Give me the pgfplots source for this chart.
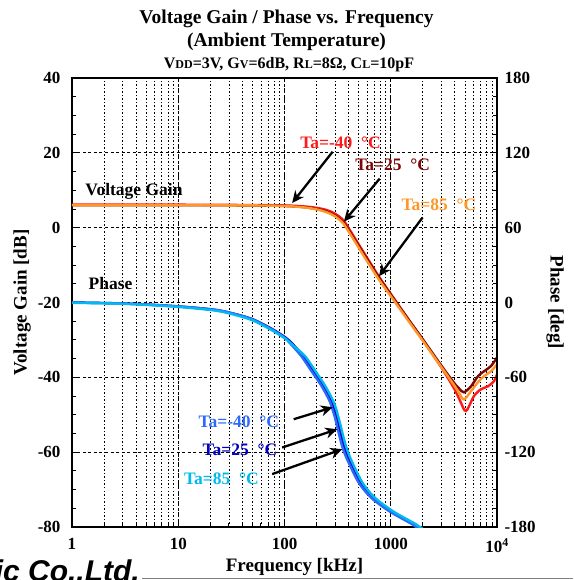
\documentclass[border=0pt]{standalone}
\usepackage{fontspec}
\setmainfont{Liberation Serif}
\newfontfamily\wmfont{Liberation Sans}
\usepackage{pgfplots}
\pgfplotsset{compat=1.18}
\usetikzlibrary{arrows.meta}
\definecolor{gRed}{RGB}{255,25,25}
\definecolor{gDark}{RGB}{125,5,5}
\definecolor{gOrange}{RGB}{255,150,40}
\definecolor{pRoyal}{RGB}{45,105,250}
\definecolor{pDark}{RGB}{0,0,190}
\definecolor{pCyan}{RGB}{0,185,240}
\newcommand{\lab}{\fontsize{17.5}{17.5}\selectfont\bfseries}
\newcommand{\tlab}{\fontsize{17}{17}\selectfont\bfseries}
\newcommand{\axlab}{\fontsize{19}{19}\selectfont\bfseries}
\tikzset{annarrow/.style={line width=2.3pt,-{Stealth[length=12pt,width=11pt]}}}
\begin{document}
\begin{tikzpicture}
\begin{axis}[name=ax,
  scale only axis, width=425pt, height=449pt,
  at={(0,0)}, anchor=south west,
  xmode=log, xmin=1, xmax=10000,
  tick align=inside, major tick length=7pt, minor tick length=4pt,
  ticklabel style={font=\tlab},
  xticklabel style={yshift=-8pt},
  yticklabel style={xshift=-8pt},
  /pgf/number format/assume math mode=true,
  axis line style={line width=1.8pt},
  every tick/.style={black, line width=0.9pt},
  ymin=-80, ymax=40, ytick={-80,-60,...,40}, minor y tick num=3,
  ytick pos=left, xtick pos=bottom,
  xtick={1,10,100,1000,10000}, xticklabels={1,10,100,1000,10\textsuperscript{4}},
  xmajorgrids=true, xminorgrids=true, ymajorgrids=true,
  major grid style={black, line width=0.8pt, dash pattern=on 3pt off 2.5pt},
  minor grid style={black, line width=0.8pt, dash pattern=on 1.5pt off 2pt},
  ylabel={Voltage Gain [dB]},
  ylabel style={font=\axlab, at={(axis description cs:-0.1176,0.5)}, anchor=center},
  xlabel={Frequency [kHz]},
  xlabel style={font=\axlab, at={(axis description cs:0.5235,-0.089)}, anchor=center},
]
\addplot[gRed, line width=2.4pt, smooth] coordinates {
(1,6.2) (5,6.2) (10,6.15) (20,6.1) (50,6.05) (100,5.95) (150,5.7) (200,5.3) (250,4.7) (300,3.7) (360,1.9) (450,-2.4) (556,-6.6) (771,-13.0) (1000,-17.7) (1500,-24.9) (2000,-30.0) (3000,-37.4) (3950,-43.0) (4500,-46.3) (5100,-49.0) (6070,-45.0) (7060,-43.2) (8230,-42.4) (9370,-41.0) (10000,-39.2)};
\addplot[gDark, line width=2.4pt, smooth] coordinates {
(1,6.0) (2,6.0) (5,6.0) (10,6.0) (20,6.0) (50,5.95) (100,5.8) (150,5.5) (200,5.0) (250,4.3) (300,3.2) (360,1.3) (450,-2.9) (556,-7.0) (771,-13.3) (1000,-17.9) (1500,-24.9) (2000,-29.8) (3000,-36.9) (3950,-41.5) (4400,-43.0) (4890,-44.0) (5690,-42.4) (6620,-39.7) (7540,-38.4) (8770,-37.0) (10000,-34.7)};
\addplot[gOrange, line width=2.4pt, smooth] coordinates {
(1,6.0) (10,6.0) (50,5.95) (100,5.8) (150,5.45) (200,4.9) (250,4.1) (300,3.0) (360,1.0) (450,-3.3) (556,-7.5) (771,-13.8) (1000,-18.3) (1500,-25.3) (2000,-30.2) (3000,-37.3) (3950,-42.1) (4400,-44.2) (4890,-45.9) (5690,-43.7) (6620,-41.3) (7540,-39.7) (8770,-38.4) (10000,-36.5)};
\node[font=\lab, text=gRed] at (axis cs:337,22.8) {Ta=-40~~°C};
\node[font=\lab, text=gDark] at (axis cs:1044,16.7) {Ta=25~~°C};
\node[font=\lab, text=gOrange] at (axis cs:2838,6.1) {Ta=85~~°C};
\draw[annarrow] (axis cs:284,20.3) -- (axis cs:118,6.6);
\draw[annarrow] (axis cs:787,13.1) -- (axis cs:362,1.6);
\draw[annarrow] (axis cs:1991,2.7) -- (axis cs:775,-13.0);
\node[font=\lab, anchor=west] at (axis cs:1.24,9.7) {Voltage Gain};
\node[font=\lab, anchor=west] at (axis cs:1.33,-14.9) {Phase};
\end{axis}
\begin{axis}[
  scale only axis, width=425pt, height=449pt,
  at={(0,0)}, anchor=south west,
  xmode=log, xmin=1, xmax=10000,
  tick align=inside, major tick length=7pt, minor tick length=4pt,
  ticklabel style={font=\tlab},
  yticklabel style={xshift=4pt},
  /pgf/number format/assume math mode=true,
  axis line style={line width=1.8pt},
  every tick/.style={black, line width=0.9pt},
  ymin=-180, ymax=180, ytick={-180,-120,...,180}, minor y tick num=3,
  axis y line*=right, axis x line=none,
  ylabel={Phase [deg]},
  ylabel style={font=\axlab, at={(axis description cs:1.1365,0.5)}, anchor=center, rotate=180},
]
\addplot[pDark, line width=2.4pt, smooth] coordinates {
(1,0) (3,-0.8) (8.8,-2.8) (21,-5.6) (32,-8.6) (50,-13.4) (77,-21.4) (103,-28.3) (120,-33.5) (150,-43) (189,-55.5) (225,-65) (253,-72.5) (280,-80) (292,-84.5) (310,-92) (325,-99) (345,-108) (363,-115) (390,-122.5) (419,-128.5) (470,-137.5) (521,-144.5) (600,-151.5) (695,-157.2) (850,-163) (1074,-168.8) (1400,-174.3) (1660,-177.8) (1786,-179.7) (2000,-182.5)};
\addplot[pRoyal, line width=2.4pt, smooth] coordinates {
(1,0) (3,-0.8) (8.8,-2.8) (21,-5.6) (32,-8.6) (50,-13.6) (77,-21.8) (103,-29) (115,-33.5) (144,-43) (181,-55.5) (216,-65) (243,-72.5) (269,-80) (280,-84.5) (298,-92) (312,-99) (331,-108) (348,-115) (374,-122.5) (402,-128.5) (451,-137.5) (500,-144.5) (576,-151.5) (667,-157.2) (816,-163) (1031,-168.8) (1344,-174.3) (1594,-177.8) (1715,-179.7) (1920,-182.5)};
\addplot[pCyan, line width=2.4pt, smooth] coordinates {
(1,-0.3) (3,-1.0) (8.8,-3.2) (21,-6.2) (32,-9.3) (50,-14.3) (77,-22.5) (103,-29.3) (120,-34.3) (156,-43) (197,-55.5) (234,-65) (263,-72.5) (291,-80) (304,-84.5) (322,-92) (338,-99) (359,-108) (378,-115) (406,-122.5) (436,-128.5) (489,-137.5) (542,-144.5) (624,-151.5) (723,-157.2) (884,-163) (1117,-168.8) (1456,-174.3) (1726,-177.8) (1857,-179.7) (2080,-182.5)};
\node[font=\lab, text=pRoyal] at (axis cs:37.2,-95.6) {Ta=-40~~°C};
\node[font=\lab, text=pDark] at (axis cs:38,-118) {Ta=25~~°C};
\node[font=\lab, text=pCyan] at (axis cs:25.5,-141.2) {Ta=85~~°C};
\draw[annarrow] (axis cs:122,-93.6) -- (axis cs:284,-84);
\draw[annarrow] (axis cs:95,-116.3) -- (axis cs:314,-101.6);
\draw[annarrow] (axis cs:76.5,-137.6) -- (axis cs:350,-117.6);
\end{axis}
% titles
\node[anchor=base, font=\fontsize{19.5}{20}\selectfont\bfseries] at ([xshift=2pt,yshift=54pt]ax.north) {Voltage Gain / Phase vs. Frequency};
\node[anchor=base, font=\fontsize{19.5}{20}\selectfont\bfseries] at ([xshift=2pt,yshift=31pt]ax.north) {(Ambient Temperature)};
\node[anchor=base, font=\fontsize{16}{16}\selectfont\bfseries] at ([xshift=4.5pt,yshift=9pt]ax.north) {V{\fontsize{12}{12}\selectfont DD}=3V, G{\fontsize{12}{12}\selectfont V}=6dB, R{\fontsize{12}{12}\selectfont L}=8Ω, C{\fontsize{12}{12}\selectfont L}=10pF};
% watermark fragment
\node[anchor=base east, font=\wmfont\fontsize{30}{30}\selectfont\bfseries\itshape, inner sep=0pt] at ([xshift=68pt,yshift=-54pt]ax.south west) {lic Co.,Ltd.};
\draw[gray, line width=1pt] ([xshift=70pt,yshift=-51pt]ax.south west) -- ([xshift=76pt,yshift=-51pt]ax.south east);
\pgfresetboundingbox
\path[use as bounding box] ([shift={(-72pt,-53pt)}]ax.south west) rectangle ([shift={(76pt,78pt)}]ax.north east);
\end{tikzpicture}
\end{document}
